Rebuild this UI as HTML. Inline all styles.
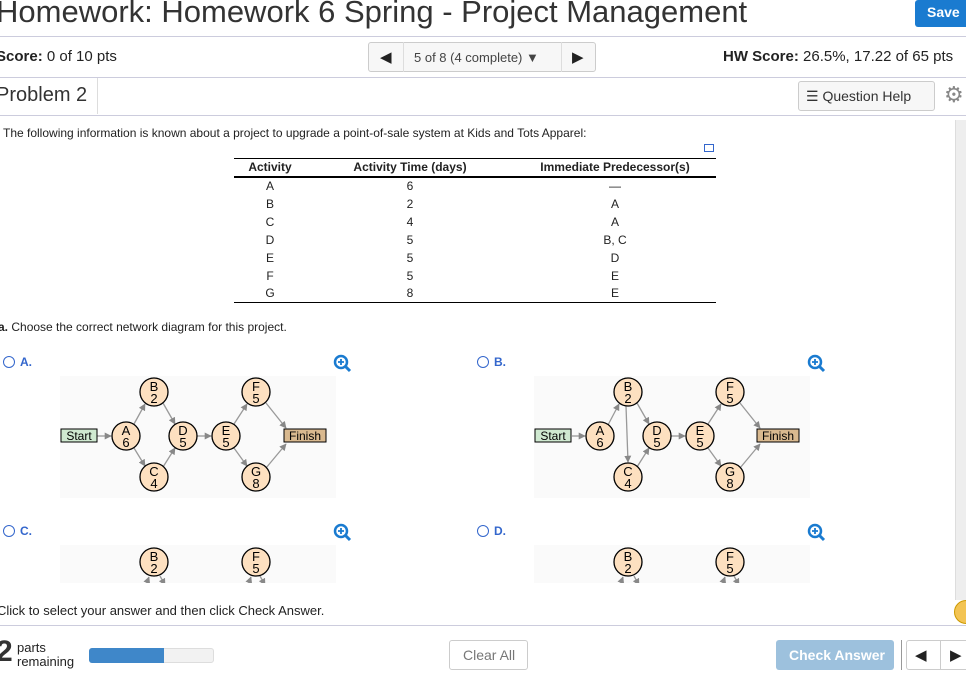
<!DOCTYPE html>
<html><head><meta charset="utf-8"><style>
*{box-sizing:border-box;margin:0;padding:0}
body{width:966px;height:679px;overflow:hidden;background:#fff;font-family:"Liberation Sans",Arial,sans-serif;color:#222;position:relative}
.a{position:absolute;white-space:nowrap}
.hr{position:absolute;left:0;height:1px;background:#ccd}
.btn{position:absolute;border:1px solid #ccc;border-radius:3px;background:#f7f7f7}
table{border-collapse:collapse;font-size:12px}
td,th{text-align:center;padding:0;height:18px}
</style></head><body>
<div class="a" style="left:-4px;top:-6px;font-size:31px;color:#333;line-height:36px">Homework: Homework 6 Spring - Project Management</div>
<div class="a" style="left:915px;top:0;width:51px;height:27px;background:#1a7bd0;color:#fff;font-weight:bold;font-size:14px;padding:4px 0 0 12px;border-radius:3px 0 0 3px">Save</div>
<div class="hr" style="top:36px;width:966px"></div>
<div class="a" style="left:-4px;top:48px;font-size:15px"><b>Score:</b> 0 of 10 pts</div>
<div class="btn" style="left:368px;top:42px;width:228px;height:30px"></div>
<div class="a" style="left:403px;top:42px;width:1px;height:30px;background:#ddd"></div>
<div class="a" style="left:561px;top:42px;width:1px;height:30px;background:#ddd"></div>
<div class="a" style="left:380px;top:48px;font-size:15px">◀</div>
<div class="a" style="left:414px;top:50px;font-size:13px;color:#444">5 of 8 (4 complete) ▼</div>
<div class="a" style="left:572px;top:48px;font-size:15px">▶</div>
<div class="a" style="left:723px;top:48px;font-size:15px"><b>HW Score:</b> 26.5%, 17.22 of 65 pts</div>
<div class="hr" style="top:77px;width:966px"></div>
<div class="a" style="left:-4px;top:84px;font-size:20px;color:#333">Problem 2</div>
<div class="a" style="left:97px;top:78px;width:1px;height:36px;background:#ddd"></div>
<div class="btn" style="left:798px;top:81px;width:137px;height:30px"></div>
<div class="a" style="left:806px;top:88px;font-size:14px;color:#333">☰ Question Help</div>
<div class="a" style="left:944px;top:82px;font-size:22px;color:#888">⚙</div>
<div class="hr" style="top:115px;width:966px"></div>
<div class="a" style="left:955px;top:120px;width:11px;height:480px;background:#eee;border-left:1px solid #ddd"></div>
<div class="a" style="left:3px;top:126px;font-size:12px">The following information is known about a project to upgrade a point-of-sale system at Kids and Tots Apparel:</div>
<div class="a" style="left:704px;top:144px;width:10px;height:8px;border:1px solid #36c"></div>
<table class="a" style="left:234px;top:158px;width:482px">
<tr style="border-top:1px solid #000;border-bottom:2px solid #000"><th style="width:72px">Activity</th><th style="width:208px">Activity Time (days)</th><th>Immediate Predecessor(s)</th></tr>
<tr><td>A</td><td>6</td><td>—</td></tr><tr><td>B</td><td>2</td><td>A</td></tr><tr><td>C</td><td>4</td><td>A</td></tr><tr><td>D</td><td>5</td><td>B, C</td></tr><tr><td>E</td><td>5</td><td>D</td></tr><tr><td>F</td><td>5</td><td>E</td></tr><tr style="border-bottom:1px solid #000"><td>G</td><td>8</td><td>E</td></tr>
</table>
<div class="a" style="left:-2px;top:320px;font-size:12px"><b>a.</b> Choose the correct network diagram for this project.</div>
<svg class="a" style="left:0;top:0" width="966" height="679" font-family="Liberation Sans,Arial,sans-serif">
<defs><marker id="m" viewBox="0 0 10 10" refX="9" refY="5" markerWidth="7" markerHeight="7" markerUnits="userSpaceOnUse" orient="auto"><path d="M0 0L10 5L0 10z" fill="#888"/></marker>
<g id="zoom"><circle cx="0" cy="0" r="6" fill="none" stroke="#1a7bd0" stroke-width="2.5"/><line x1="4" y1="4" x2="9" y2="9" stroke="#1a7bd0" stroke-width="3"/><path d="M-3 0H3M0-3V3" stroke="#1a7bd0" stroke-width="1.8"/></g>
<g id="rad"><circle r="5.5" fill="#fff" stroke="#36c"/></g>
</defs>
<rect x="60" y="376" width="276" height="122" fill="#fafafa"/>
<rect x="534" y="376" width="276" height="122" fill="#fafafa"/>
<rect x="60" y="545" width="276" height="40" fill="#fafafa"/>
<rect x="534" y="545" width="276" height="40" fill="#fafafa"/>
<use href="#rad" x="9" y="362"/><text x="20" y="366" font-size="12" font-weight="bold" fill="#36c">A.</text>
<use href="#rad" x="483" y="362"/><text x="494" y="366" font-size="12" font-weight="bold" fill="#36c">B.</text>
<use href="#rad" x="9" y="531"/><text x="20" y="535" font-size="12" font-weight="bold" fill="#36c">C.</text>
<use href="#rad" x="483" y="531"/><text x="494" y="535" font-size="12" font-weight="bold" fill="#36c">D.</text>
<use href="#zoom" x="341" y="362"/><use href="#zoom" x="815" y="362"/><use href="#zoom" x="341" y="531"/><use href="#zoom" x="815" y="531"/>
<g stroke="#999" stroke-width="1.3" fill="none" marker-end="url(#m)">
<line x1="97" y1="436" x2="111" y2="436"/><line x1="134" y1="424" x2="145" y2="404"/><line x1="134" y1="448" x2="145" y2="466"/>
<line x1="163" y1="403" x2="175" y2="424"/><line x1="163" y1="467" x2="175" y2="448"/><line x1="197" y1="436" x2="211" y2="436"/>
<line x1="234" y1="424" x2="247" y2="404"/><line x1="234" y1="448" x2="247" y2="466"/><line x1="266" y1="403" x2="286" y2="428"/><line x1="266" y1="468" x2="286" y2="444"/>
<line x1="572" y1="436" x2="585" y2="436"/><line x1="608" y1="425" x2="619" y2="404"/><line x1="626" y1="406" x2="628" y2="462"/>
<line x1="637" y1="403" x2="649" y2="424"/><line x1="637" y1="467" x2="649" y2="448"/><line x1="671" y1="436" x2="685" y2="436"/>
<line x1="708" y1="424" x2="721" y2="404"/><line x1="708" y1="448" x2="721" y2="466"/><line x1="740" y1="403" x2="760" y2="428"/><line x1="740" y1="468" x2="760" y2="444"/>
<line x1="146" y1="585" x2="149" y2="577"/><line x1="160" y1="576" x2="165" y2="585"/><line x1="248" y1="585" x2="251" y2="577"/><line x1="260" y1="576" x2="265" y2="585"/>
<line x1="620" y1="585" x2="623" y2="577"/><line x1="634" y1="576" x2="639" y2="585"/><line x1="722" y1="585" x2="725" y2="577"/><line x1="734" y1="576" x2="739" y2="585"/>
</g>
<g font-size="12" text-anchor="middle">
<rect x="61" y="429" width="36" height="13" fill="#cfe9d0" stroke="#000"/><text x="79" y="440">Start</text>
<rect x="284" y="429" width="42" height="13" fill="#d9b98f" stroke="#000"/><text x="305" y="440">Finish</text>
<rect x="535" y="429" width="36" height="13" fill="#cfe9d0" stroke="#000"/><text x="553" y="440">Start</text>
<rect x="757" y="429" width="42" height="13" fill="#d9b98f" stroke="#000"/><text x="778" y="440">Finish</text>
<g fill="#fde0c0" stroke="#000" stroke-width="1.3">
<circle cx="126" cy="436" r="14"/><circle cx="154" cy="392" r="14"/><circle cx="154" cy="477" r="14"/><circle cx="183" cy="436" r="14"/><circle cx="226" cy="436" r="14"/><circle cx="256" cy="392" r="14"/><circle cx="256" cy="477" r="14"/>
<circle cx="600" cy="436" r="14"/><circle cx="628" cy="392" r="14"/><circle cx="628" cy="477" r="14"/><circle cx="657" cy="436" r="14"/><circle cx="700" cy="436" r="14"/><circle cx="730" cy="392" r="14"/><circle cx="730" cy="477" r="14"/>
<circle cx="154" cy="562" r="14"/><circle cx="256" cy="562" r="14"/><circle cx="628" cy="562" r="14"/><circle cx="730" cy="562" r="14"/>
</g>
<g font-size="13">
<text x="126" y="435">A</text><text x="126" y="447">6</text><text x="154" y="391">B</text><text x="154" y="403">2</text><text x="154" y="476">C</text><text x="154" y="488">4</text><text x="183" y="435">D</text><text x="183" y="447">5</text><text x="226" y="435">E</text><text x="226" y="447">5</text><text x="256" y="391">F</text><text x="256" y="403">5</text><text x="256" y="476">G</text><text x="256" y="488">8</text>
<text x="600" y="435">A</text><text x="600" y="447">6</text><text x="628" y="391">B</text><text x="628" y="403">2</text><text x="628" y="476">C</text><text x="628" y="488">4</text><text x="657" y="435">D</text><text x="657" y="447">5</text><text x="700" y="435">E</text><text x="700" y="447">5</text><text x="730" y="391">F</text><text x="730" y="403">5</text><text x="730" y="476">G</text><text x="730" y="488">8</text>
<text x="154" y="561">B</text><text x="154" y="573">2</text><text x="256" y="561">F</text><text x="256" y="573">5</text><text x="628" y="561">B</text><text x="628" y="573">2</text><text x="730" y="561">F</text><text x="730" y="573">5</text>
</g></g>
</svg>
<div class="a" style="left:0;top:583px;width:955px;height:17px;background:#fff"></div>
<div class="a" style="left:-3px;top:603px;font-size:13px">Click to select your answer and then click Check Answer.</div>
<div class="a" style="left:954px;top:600px;width:24px;height:24px;border-radius:50%;background:#f3c453;border:1px solid #c90"></div>
<div class="hr" style="top:625px;width:966px"></div>
<div class="a" style="left:-4px;top:637px;font-size:30px;font-weight:bold;color:#333;line-height:30px">2</div>
<div class="a" style="left:17px;top:641px;font-size:13px;line-height:14px">parts<br>remaining</div>
<div class="a" style="left:89px;top:648px;width:125px;height:15px;border:1px solid #ddd;border-radius:3px;background:#f2f2f2"></div>
<div class="a" style="left:89px;top:648px;width:75px;height:15px;background:#3f87c9;border-radius:3px 0 0 3px"></div>
<div class="btn" style="left:449px;top:640px;width:79px;height:30px;background:#fff"></div>
<div class="a" style="left:463px;top:647px;font-size:14px;color:#777">Clear All</div>
<div class="a" style="left:776px;top:640px;width:118px;height:30px;background:#9dc1dd;border-radius:3px;color:#fff;font-size:14px;font-weight:bold;padding:7px 0 0 13px">Check Answer</div>
<div class="a" style="left:901px;top:640px;width:1px;height:30px;background:#999"></div>
<div class="btn" style="left:906px;top:640px;width:70px;height:30px;background:#fff"></div>
<div class="a" style="left:940px;top:640px;width:1px;height:30px;background:#ccc"></div>
<div class="a" style="left:915px;top:646px;font-size:15px">◀</div>
<div class="a" style="left:950px;top:646px;font-size:15px">▶</div>
</body></html>
